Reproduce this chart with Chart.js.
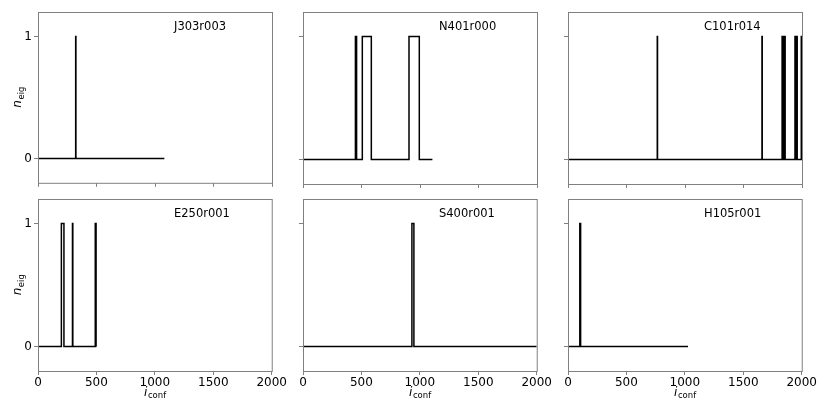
<!DOCTYPE html>
<html>
<head>
<meta charset="utf-8">
<script src="https://cdn.jsdelivr.net/npm/chart.js@4/dist/chart.umd.min.js"></script>
<style>
  body { margin:0; background:#fff; }
  #wrap { position:relative; width:830px; height:415px; overflow:hidden; }
  #wrap canvas { position:absolute; }
</style>
</head>
<body>
<div id="wrap"></div>
<script>
// ensembles, one panel each (row by row)
const ensembles = ["J303r003", "N401r000", "C101r014", "E250r001", "S400r001", "H105r001"];
const lastConfig = [1080, 1106, 2000, 499, 2000, 1027];
// configs where n_eig goes 0 -> 1, and back 1 -> 0
const eigOn = [
  [322],
  [448, 507, 906],
  [763, 1658, 1830, 1837, 1844, 1851, 1940, 1947, 1954, 1994],
  [200, 295, 490],
  [932],
  [101]
];
const eigOff = [
  [324],
  [458, 584, 994],
  [765, 1660, 1834, 1841, 1848, 1856, 1944, 1951, 1959, 1997],
  [222, 298, 497],
  [949],
  [108]
];
const xTickValues = [0, 500, 1000, 1500, 2000];
const yTickValues = [0, 1];

const FONT = "'DejaVu Sans', sans-serif";
Chart.defaults.font.family = FONT;
Chart.defaults.font.size = 12;
Chart.defaults.color = "#000";

const plotLeft = [38, 303, 568];
const plotTop = [12, 199];
const wrap = document.getElementById("wrap");

// frame, panel name and axis titles
const panelDecor = {
  id: "panelDecor",
  afterDraw(chart, args, opts){
    const ctx = chart.ctx, a = chart.chartArea;
    ctx.save();
    ctx.strokeStyle = "#808080";
    ctx.lineWidth = 1;
    ctx.strokeRect(a.left + 0.5, a.top + 0.5, a.right - a.left, a.bottom - a.top);

    ctx.fillStyle = "#000";
    ctx.textBaseline = "alphabetic";
    ctx.font = "11.5px " + FONT;
    ctx.fillText(opts.name, a.left + 136, a.top + 17.5);

    if(opts.yTitle){
      ctx.save();
      ctx.translate(21, (a.top + a.bottom) / 2);
      ctx.rotate(-Math.PI / 2);
      ctx.font = "italic 12px " + FONT;
      const wn = ctx.measureText("n").width;
      ctx.font = "8.5px " + FONT;
      const ws = ctx.measureText("eig").width;
      const x0 = -(wn + ws) / 2;
      ctx.font = "italic 12px " + FONT;
      ctx.fillText("n", x0, 0);
      ctx.font = "8.5px " + FONT;
      ctx.fillText("eig", x0 + wn + 0.5, 2.5);
      ctx.restore();
    }
    if(opts.xTitle){
      ctx.font = "italic 12px " + FONT;
      const wi = ctx.measureText("i").width;
      ctx.font = "8.5px " + FONT;
      const ws = ctx.measureText("conf").width;
      const x0 = (a.left + a.right) / 2 - (wi + ws) / 2;
      const yb = a.bottom + 24.5;
      ctx.font = "italic 12px " + FONT;
      ctx.fillText("i", x0, yb);
      ctx.font = "8.5px " + FONT;
      ctx.fillText("conf", x0 + wi + 0.5, yb + 2.5);
    }
    ctx.restore();
  }
};

ensembles.forEach((name, i) => {
  const row = Math.floor(i / 3), col = i % 3;
  const bottomRow = row === 1, leftCol = col === 0;

  // step line built from the switch points
  const pts = [{x: 0, y: 0}];
  eigOn[i].forEach((on, k) => {
    pts.push({x: on, y: 1});
    pts.push({x: eigOff[i][k], y: 0});
  });
  pts.push({x: lastConfig[i], y: 0});

  const cv = document.createElement("canvas");
  const w = 38 + 234 + 16;
  const h = bottomRow ? 228 : 192;
  cv.width = w; cv.height = h;
  cv.style.left = (plotLeft[col] - 38) + "px";
  cv.style.top = (plotTop[row] - 12) + "px";
  wrap.appendChild(cv);

  const xH = bottomRow ? 20 : 6;
  const padB = bottomRow ? 24 : 2;

  new Chart(cv, {
    type: "line",
    data: {
      datasets: [{
        data: pts,
        borderColor: "#000",
        borderWidth: 1.5,
        stepped: true,
        pointRadius: 0,
        fill: false
      }]
    },
    options: {
      responsive: false,
      animation: false,
      devicePixelRatio: 1,
      layout: { padding: { top: 12, right: 16, left: 0, bottom: padB } },
      plugins: {
        legend: { display: false },
        tooltip: { enabled: false },
        panelDecor: { name: name, yTitle: leftCol, xTitle: bottomRow }
      },
      scales: {
        x: {
          type: "linear",
          min: 0, max: 2000,
          afterBuildTicks: s => { s.ticks = xTickValues.map(v => ({value: v})); },
          afterFit: s => { s.height = xH; },
          ticks: { display: bottomRow, padding: 1, maxRotation: 0, autoSkip: false, callback: v => String(v) },
          grid: { drawOnChartArea: false, drawTicks: true, tickLength: 4, color: "#808080" },
          border: { display: false }
        },
        y: {
          type: "linear",
          min: -0.2, max: 1.2,
          afterBuildTicks: s => { s.ticks = yTickValues.map(v => ({value: v})); },
          afterFit: s => { s.width = 38; },
          ticks: { display: leftCol, padding: 2, callback: v => String(v) },
          grid: { drawOnChartArea: false, drawTicks: true, tickLength: 4, color: "#808080" },
          border: { display: false }
        }
      }
    },
    plugins: [panelDecor]
  });
});
</script>
</body>
</html>
